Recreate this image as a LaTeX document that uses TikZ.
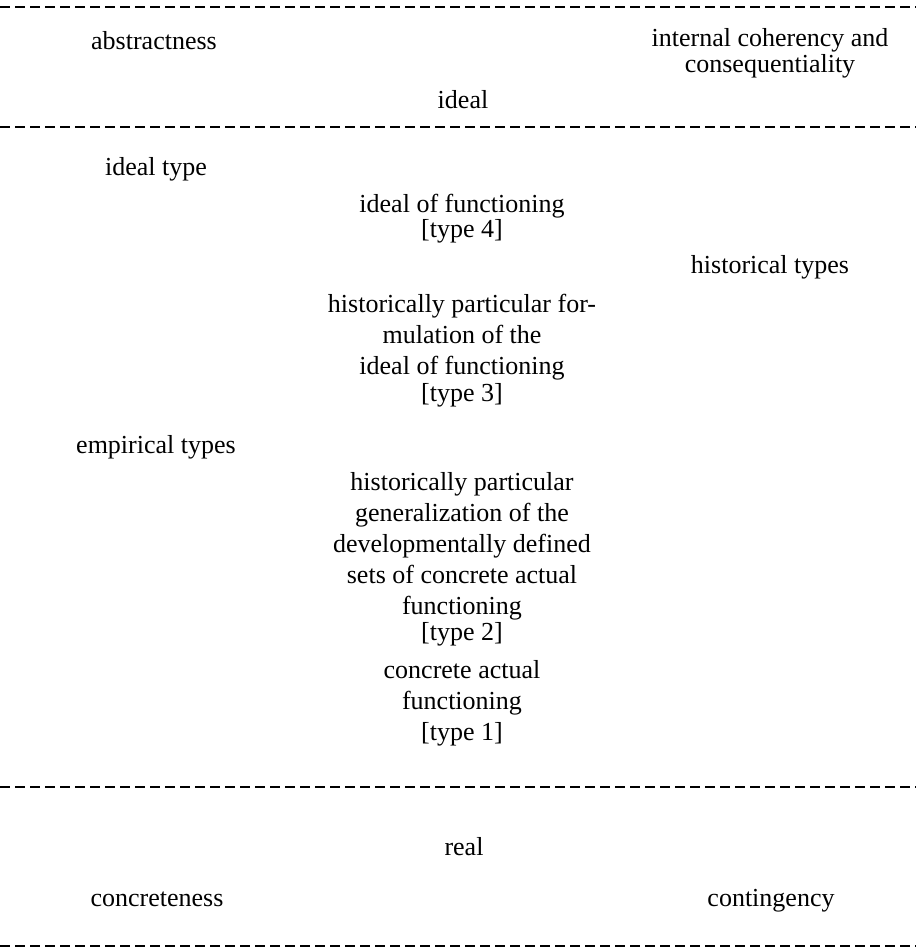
\documentclass[tikz,border=0pt]{standalone}
\usepackage{fontspec}
\setmainfont{Liberation Serif}
\begin{document}
\begin{tikzpicture}[x=1pt,y=-1pt,
  lbl/.style={inner sep=0pt,outer sep=0pt,align=center,font=\fontsize{26}{31}\selectfont},
  one/.style={lbl,anchor=base},
  rule/.style={line width=2.4pt,dash pattern=on 10pt off 5pt}]
\useasboundingbox (0,0) rectangle (916,951);
% dashed rules
\coordinate (r1a) at (0,7);   \coordinate (r1b) at (916,7);
\coordinate (r2a) at (0,127); \coordinate (r2b) at (916,127);
\coordinate (r3a) at (0,787); \coordinate (r3b) at (916,787);
\coordinate (r4a) at (0,946); \coordinate (r4b) at (916,946);
\draw[rule] (r1a) -- (r1b);
\draw[rule] (r2a) -- (r2b);
\draw[rule] (r3a) -- (r3b);
\draw[rule] (r4a) -- (r4b);
% labels
\node[one] (abs) at (154,49) {abstractness};
\node[lbl] (coh) at (770,53) {internal coherency and\\[-5pt]consequentiality};
\node[one] (ideal) at (463,108) {ideal};
\node[one] (itype) at (156,175) {ideal type};
\node[lbl] (t4) at (462,218.5) {ideal of functioning\\[-6pt][type 4]};
\node[one] (htypes) at (770,273) {historical types};
\node[lbl] (t3) at (462,350.5) {historically particular for-\\mulation of the\\ideal of functioning\\[-4pt][type 3]};
\node[one] (etypes) at (156,453) {empirical types};
\node[lbl] (t2) at (462,559) {historically particular\\generalization of the\\developmentally defined\\sets of concrete actual\\functioning\\[-5pt][type 2]};
\node[lbl] (t1) at (462,703.5) {concrete actual\\functioning\\{[type 1]}};
\node[one] (real) at (464,855) {real};
\node[one] (conc) at (157,906) {concreteness};
\node[one] (cont) at (771,906) {contingency};
\end{tikzpicture}
\end{document}
